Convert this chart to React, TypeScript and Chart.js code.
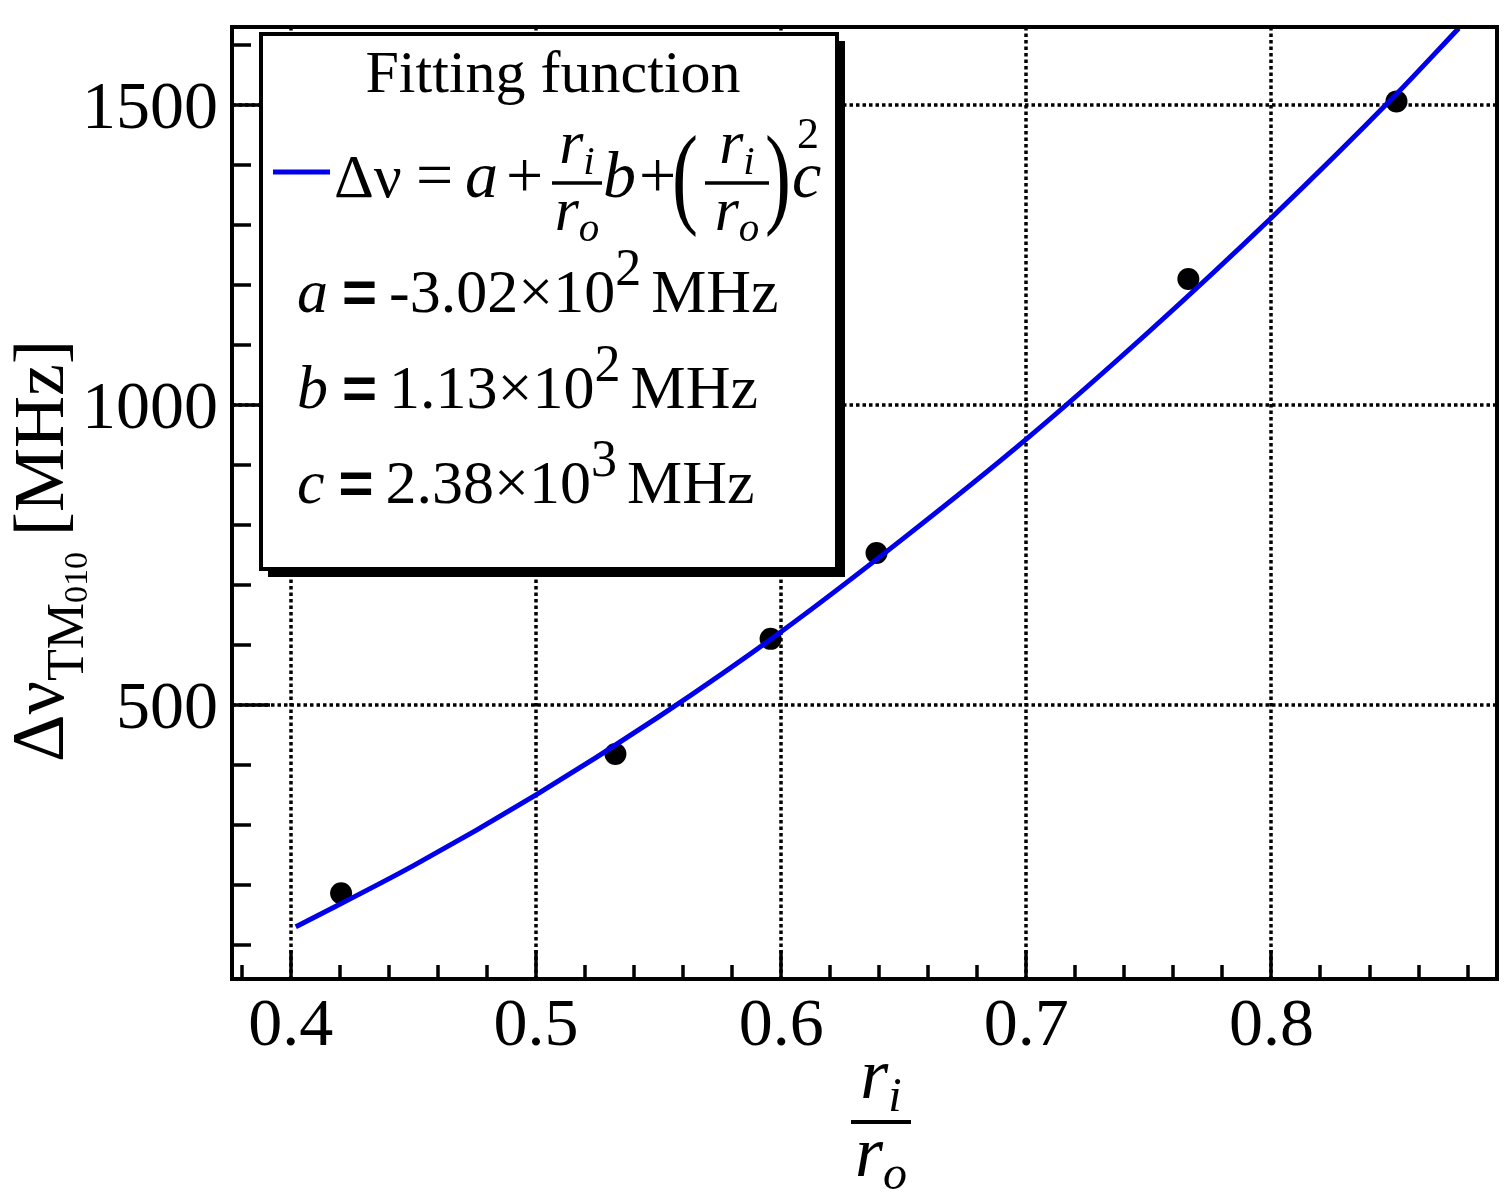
import { useEffect, useRef } from "react"
import { Chart, registerables, type Plugin } from "chart.js"

Chart.register(...registerables)

// measured cavity shift vs radius ratio
const measuredRatio = [0.4205, 0.5324, 0.5957, 0.6389, 0.7661, 0.851]
const measuredShift = [186, 418, 610, 753, 1210, 1506]

// fitted curve
const fitRatio = [0.402, 0.45, 0.5, 0.55, 0.6, 0.65, 0.7, 0.75, 0.8, 0.85, 0.8764]
const fitShift = [130, 232, 350, 480, 622, 778, 943, 1122, 1312, 1514, 1628]

const xMajorTicks = [0.4, 0.5, 0.6, 0.7, 0.8]
const xTickLabels = ["0.4", "0.5", "0.6", "0.7", "0.8"]
const xMinorTicks = [
  0.38, 0.42, 0.44, 0.46, 0.48, 0.52, 0.54, 0.56, 0.58, 0.62, 0.64, 0.66, 0.68,
  0.72, 0.74, 0.76, 0.78, 0.82, 0.84, 0.86, 0.88,
]
const yMajorTicks = [500, 1000, 1500]
const yTickLabels = ["500", "1000", "1500"]
const yMinorTicks = [100, 200, 300, 400, 600, 700, 800, 900, 1100, 1200, 1300, 1400, 1600]

const paramNames = ["a", "b", "c"]
const paramMantissas = ["-3.02", "1.13", "2.38"]
const paramExponents = ["2", "2", "3"]

const SERIF = '"Liberation Serif", "Times New Roman", serif'
const SANS = '"Liberation Sans", Arial, sans-serif'
const BLUE = "rgb(0, 0, 235)"

type Piece = { text: string; font: string; dy?: number; gap?: number }

function drawRun(ctx: CanvasRenderingContext2D, x: number, y: number, pieces: Piece[]) {
  let cx = x
  for (const p of pieces) {
    cx += p.gap ?? 0
    ctx.font = p.font
    ctx.fillText(p.text, cx, y + (p.dy ?? 0))
    cx += ctx.measureText(p.text).width
  }
  return cx
}

function runWidth(ctx: CanvasRenderingContext2D, pieces: Piece[]) {
  let w = 0
  for (const p of pieces) {
    ctx.font = p.font
    w += (p.gap ?? 0) + ctx.measureText(p.text).width
  }
  return w
}

function drawFrac(
  ctx: CanvasRenderingContext2D,
  cx: number,
  barY: number,
  barW: number,
  size: number,
  sub: string,
  sub2: string,
) {
  ctx.lineWidth = size / 17
  ctx.beginPath()
  ctx.moveTo(cx - barW / 2, barY)
  ctx.lineTo(cx + barW / 2, barY)
  ctx.stroke()
  const top: Piece[] = [
    { text: "r", font: `italic ${size}px ${SERIF}` },
    { text: sub, font: `italic ${Math.round(size * 0.66)}px ${SERIF}`, dy: size * 0.18 },
  ]
  const bot: Piece[] = [
    { text: "r", font: `italic ${size}px ${SERIF}` },
    { text: sub2, font: `italic ${Math.round(size * 0.66)}px ${SERIF}`, dy: size * 0.18 },
  ]
  drawRun(ctx, cx - runWidth(ctx, top) / 2, barY - size * 0.33, top)
  drawRun(ctx, cx - runWidth(ctx, bot) / 2, barY + size * 0.75, bot)
}

function tallParen(ctx: CanvasRenderingContext2D, ch: string, x: number, baseline: number) {
  ctx.save()
  ctx.translate(x, baseline)
  ctx.scale(1, 1.45)
  ctx.font = `78px ${SERIF}`
  ctx.fillText(ch, 0, 0)
  ctx.restore()
}

const framePlugin: Plugin<"line"> = {
  id: "rootFrame",
  beforeDatasetsDraw(chart) {
    const { ctx, chartArea: a, scales } = chart
    ctx.save()
    ctx.strokeStyle = "#000"
    ctx.lineWidth = 3.5
    ctx.setLineDash([3.5, 3])
    ctx.beginPath()
    for (const v of xMajorTicks) {
      const x = Math.round(scales.x.getPixelForValue(v))
      ctx.moveTo(x, a.top)
      ctx.lineTo(x, a.bottom)
    }
    for (const v of yMajorTicks) {
      const y = Math.round(scales.y.getPixelForValue(v))
      ctx.moveTo(a.left, y)
      ctx.lineTo(a.right, y)
    }
    ctx.stroke()
    ctx.restore()
  },
  afterDraw(chart) {
    const { ctx, chartArea: a, scales } = chart
    ctx.save()
    ctx.strokeStyle = "#000"
    ctx.fillStyle = "#000"

    // frame
    ctx.lineWidth = 4
    ctx.strokeRect(a.left, a.top, a.right - a.left, a.bottom - a.top)

    // inward ticks
    ctx.lineWidth = 3.5
    ctx.beginPath()
    for (const v of xMajorTicks) {
      const x = Math.round(scales.x.getPixelForValue(v))
      ctx.moveTo(x, a.bottom)
      ctx.lineTo(x, a.bottom - 29)
    }
    for (const v of xMinorTicks) {
      const x = Math.round(scales.x.getPixelForValue(v))
      ctx.moveTo(x, a.bottom)
      ctx.lineTo(x, a.bottom - 14)
    }
    for (const v of yMajorTicks) {
      const y = Math.round(scales.y.getPixelForValue(v))
      ctx.moveTo(a.left, y)
      ctx.lineTo(a.left + 38, y)
    }
    for (const v of yMinorTicks) {
      const y = Math.round(scales.y.getPixelForValue(v))
      ctx.moveTo(a.left, y)
      ctx.lineTo(a.left + 19, y)
    }
    ctx.stroke()

    // tick labels
    ctx.font = `68px ${SERIF}`
    ctx.textBaseline = "alphabetic"
    ctx.textAlign = "center"
    xMajorTicks.forEach((v, i) => {
      ctx.fillText(xTickLabels[i], scales.x.getPixelForValue(v), 1045)
    })
    ctx.textAlign = "right"
    yMajorTicks.forEach((v, i) => {
      ctx.fillText(yTickLabels[i], 218, scales.y.getPixelForValue(v) + 23)
    })
    ctx.textAlign = "left"

    // x title: r_i / r_o
    drawFrac(ctx, 881, 1122, 60, 72, "i", "o")

    // y title, rotated
    const yTitle: Piece[] = [
      { text: "Δν", font: `74px ${SERIF}` },
      { text: "TM", font: `52px ${SERIF}`, dy: 20 },
      { text: "010", font: `34px ${SERIF}`, dy: 24 },
      { text: "[MHz]", font: `72px ${SERIF}`, gap: 16 },
    ]
    ctx.save()
    ctx.translate(63, 551)
    ctx.rotate(-Math.PI / 2)
    drawRun(ctx, -runWidth(ctx, yTitle) / 2, 0, yTitle)
    ctx.restore()

    // legend box with shadow
    const bx = 261
    const by = 34
    const bw = 576
    const bh = 535
    ctx.fillRect(bx + 7, by + 7, bw + 1, bh + 1)
    ctx.fillStyle = "#fff"
    ctx.fillRect(bx, by, bw, bh)
    ctx.fillStyle = "#000"
    ctx.lineWidth = 4
    ctx.strokeRect(bx, by, bw, bh)

    ctx.font = `60px ${SERIF}`
    ctx.textAlign = "center"
    ctx.fillText("Fitting function", 553, 92)
    ctx.textAlign = "left"

    ctx.strokeStyle = BLUE
    ctx.lineWidth = 5
    ctx.beginPath()
    ctx.moveTo(273, 172)
    ctx.lineTo(330, 172)
    ctx.stroke()
    ctx.strokeStyle = "#000"

    const fy = 197
    ctx.font = `62px ${SERIF}`
    ctx.fillText("Δν", 334, fy)
    ctx.font = `66px ${SERIF}`
    ctx.fillText("=", 416, fy)
    ctx.fillText("+", 506, fy)
    ctx.fillText("+", 639, fy)
    ctx.font = `italic 66px ${SERIF}`
    ctx.fillText("a", 465, fy)
    ctx.fillText("b", 603, fy)
    ctx.fillText("c", 792, fy)
    drawFrac(ctx, 577, 183, 50, 62, "i", "o")
    tallParen(ctx, "(", 672, 213)
    tallParen(ctx, ")", 765, 213)
    drawFrac(ctx, 737, 183, 64, 62, "i", "o")
    ctx.font = `44px ${SERIF}`
    ctx.fillText("2", 797, 148)

    const baselines = [312, 408, 503]
    paramNames.forEach((name, i) => {
      drawRun(ctx, 297, baselines[i], [
        { text: name, font: `italic 62px ${SERIF}` },
        { text: "=", font: `bold 60px ${SANS}`, gap: 14 },
        { text: `${paramMantissas[i]}×10`, font: `62px ${SERIF}`, gap: 12 },
        { text: paramExponents[i], font: `52px ${SERIF}`, dy: -27 },
        { text: "MHz", font: `62px ${SERIF}`, gap: 10 },
      ])
    })

    ctx.restore()
  },
}

export default function App() {
  const canvasRef = useRef<HTMLCanvasElement | null>(null)

  useEffect(() => {
    document.body.style.margin = "0"
    if (!canvasRef.current) return
    const chart = new Chart(canvasRef.current, {
      type: "line",
      data: {
        datasets: [
          {
            label: "fit",
            data: fitRatio.map((x, i) => ({ x, y: fitShift[i] })),
            borderColor: BLUE,
            borderWidth: 5,
            pointRadius: 0,
            cubicInterpolationMode: "monotone",
            fill: false,
          },
          {
            label: "data",
            data: measuredRatio.map((x, i) => ({ x, y: measuredShift[i] })),
            showLine: false,
            pointRadius: 11,
            pointBackgroundColor: "#000",
            pointBorderColor: "#000",
            pointBorderWidth: 0,
          },
        ],
      },
      options: {
        responsive: false,
        animation: false,
        layout: { padding: { left: 232, top: 27, right: 13, bottom: 216 } },
        plugins: { legend: { display: false }, tooltip: { enabled: false } },
        scales: {
          x: { type: "linear", min: 0.376, max: 0.892, display: false },
          y: { type: "linear", min: 43, max: 1630, display: false },
        },
      },
      plugins: [framePlugin],
    })
    return () => chart.destroy()
  }, [])

  return (
    <div style={{ width: 1510, height: 1195, background: "#fff" }}>
      <canvas ref={canvasRef} width={1510} height={1195} style={{ width: 1510, height: 1195 }} />
    </div>
  )
}
